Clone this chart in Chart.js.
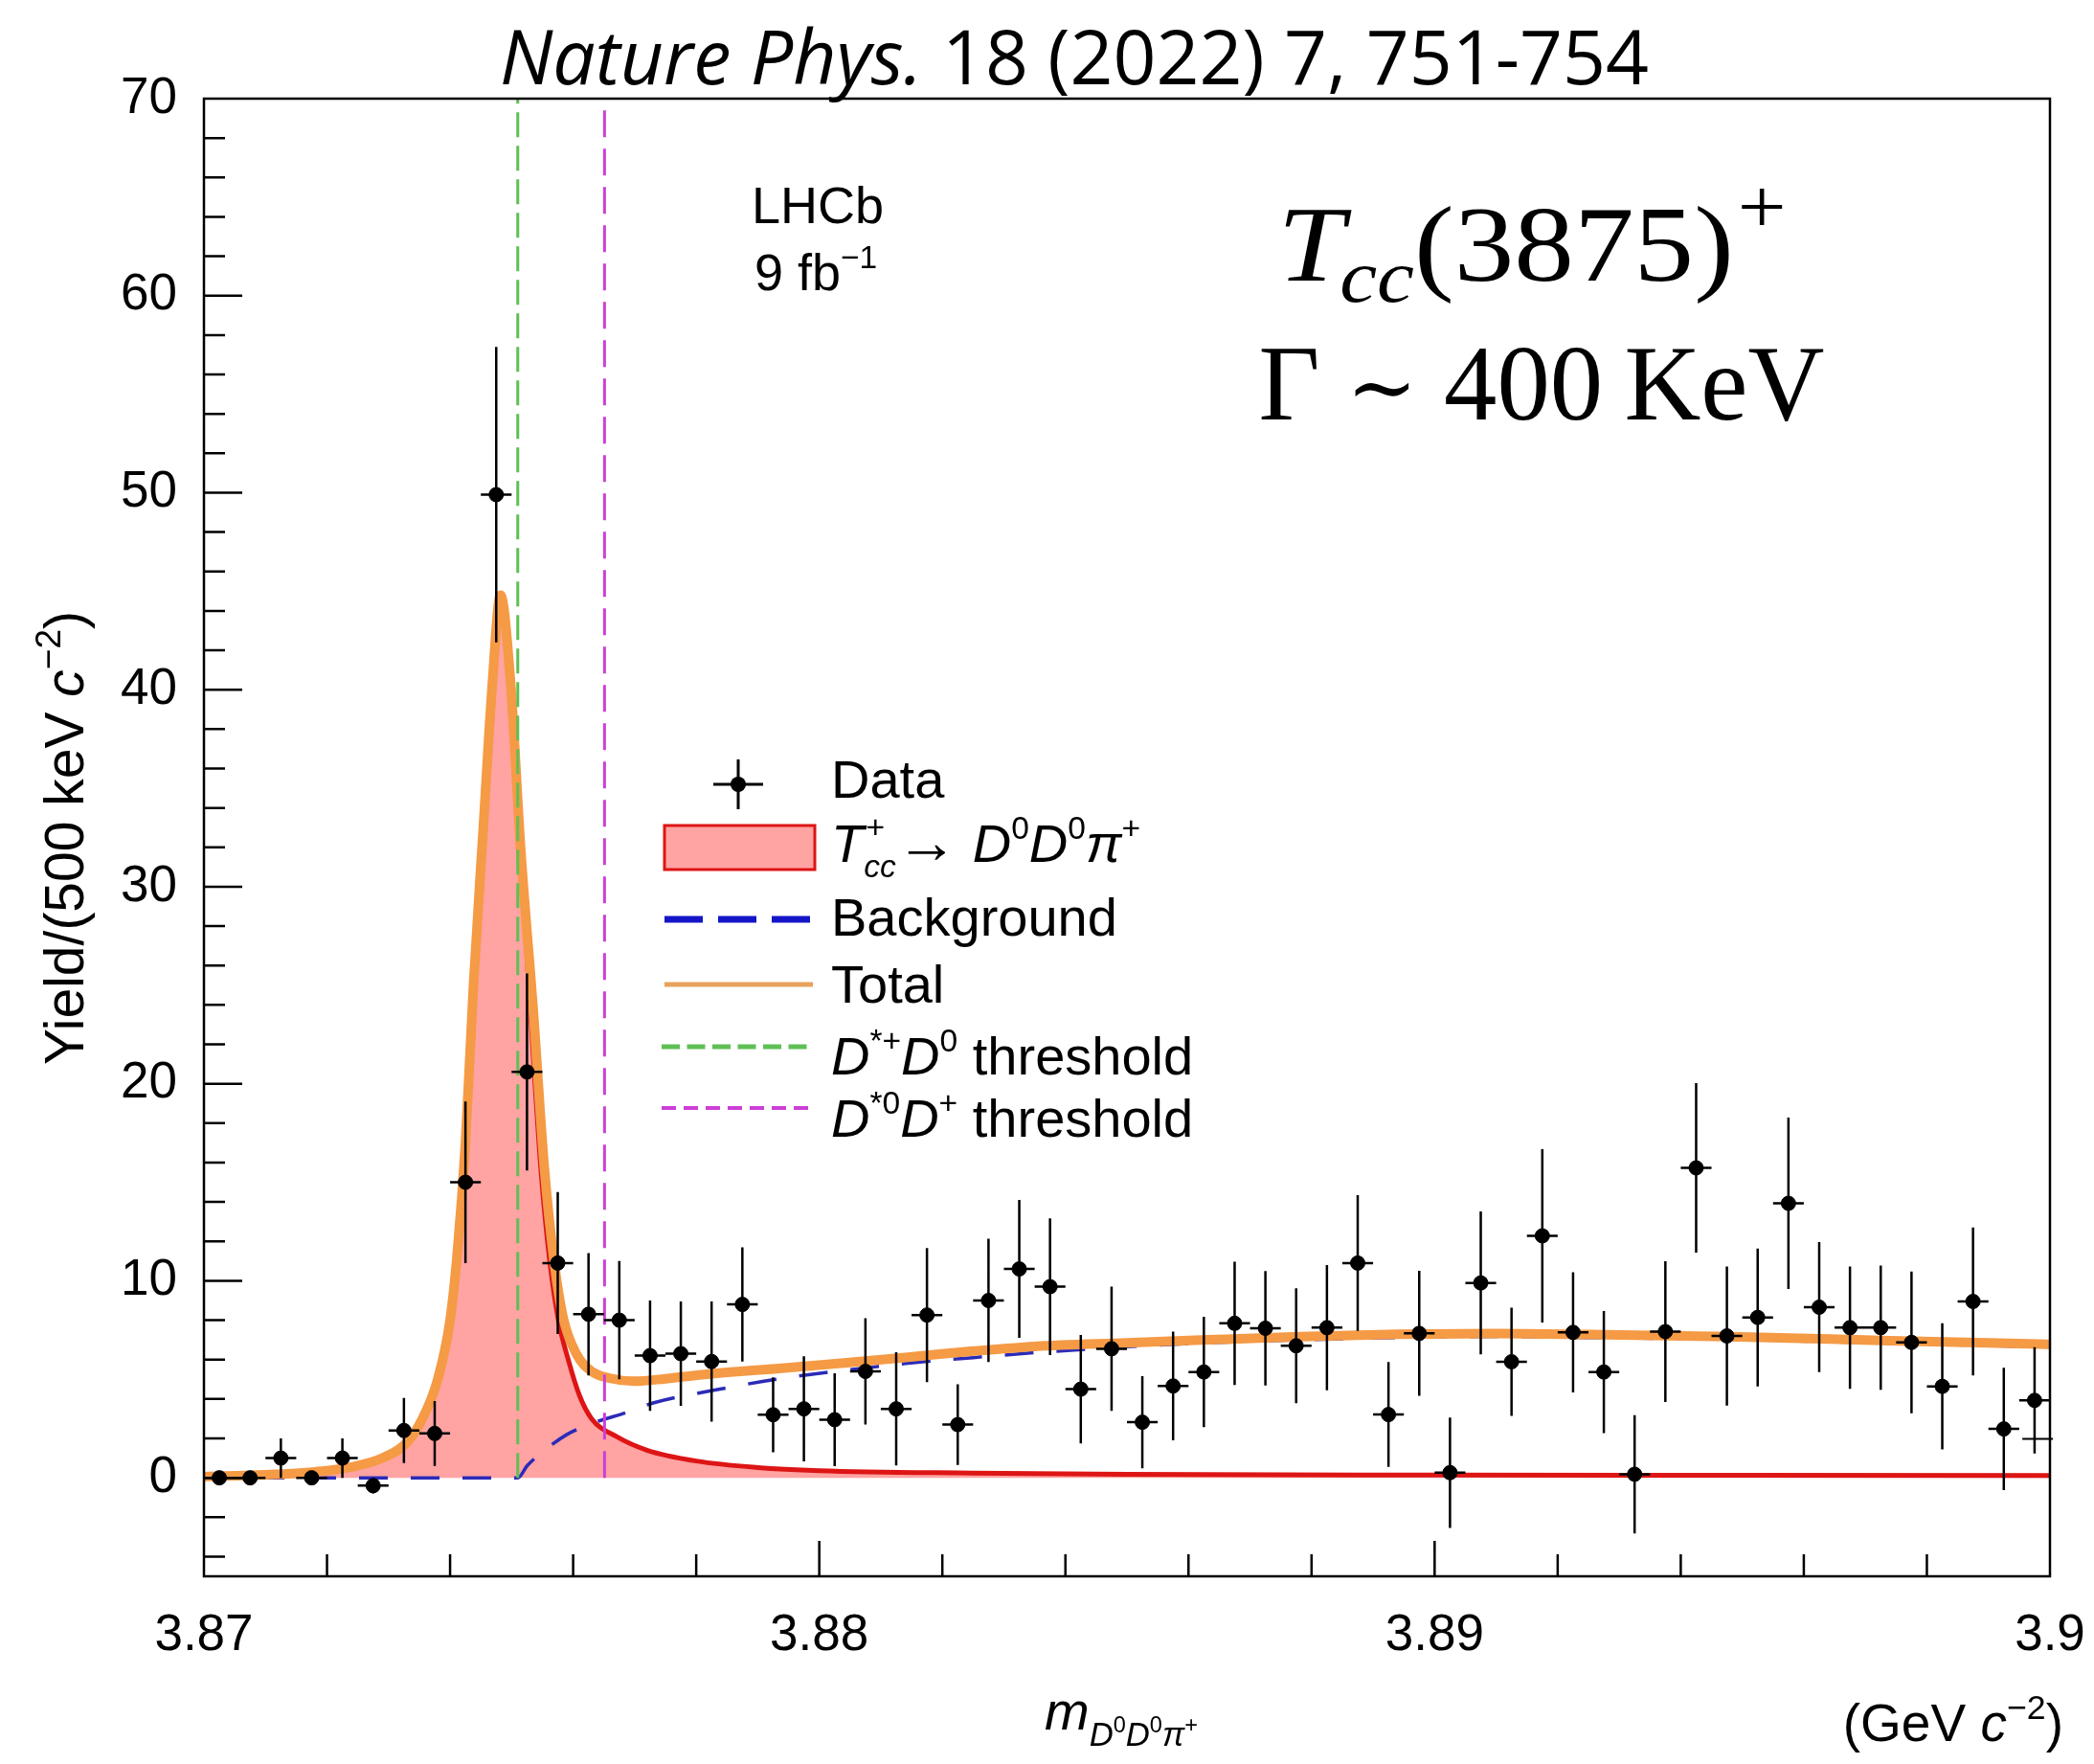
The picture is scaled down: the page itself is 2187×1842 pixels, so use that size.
<!DOCTYPE html>
<html>
<head>
<meta charset="utf-8">
<title>Tcc(3875)+ in D0D0pi+ mass</title>
<script src="https://cdn.jsdelivr.net/npm/chart.js@4.4.1/dist/chart.umd.min.js"></script>
<style>
  html, body { margin: 0; padding: 0; background: #fff; }
  #chart { display: block; }
</style>
</head>
<body>
<canvas id="chart" width="2187" height="1842"></canvas>
<script>
// bin centres in GeV/c^2 (500 keV bins)
var massBins = [3.87025, 3.87075, 3.87125, 3.87175, 3.87225, 3.87275, 3.87325, 3.87375, 3.87425, 3.87475,
                3.87525, 3.87575, 3.87625, 3.87675, 3.87725, 3.87775, 3.87825, 3.87875, 3.87925, 3.87975,
                3.88025, 3.88075, 3.88125, 3.88175, 3.88225, 3.88275, 3.88325, 3.88375, 3.88425, 3.88475,
                3.88525, 3.88575, 3.88625, 3.88675, 3.88725, 3.88775, 3.88825, 3.88875, 3.88925, 3.88975,
                3.89025, 3.89075, 3.89125, 3.89175, 3.89225, 3.89275, 3.89325, 3.89375, 3.89425, 3.89475,
                3.89525, 3.89575, 3.89625, 3.89675, 3.89725, 3.89775, 3.89825, 3.89875, 3.89925, 3.89975];
var yieldVals = [0, 0, 1.0, 0, 1.0, -0.4, 2.4, 2.25, 15.0, 49.9,
                 20.6, 10.9, 8.3, 8.0, 6.2, 6.3, 5.9, 8.8, 3.2, 3.5,
                 2.95, 5.4, 3.5, 8.26, 2.7, 9.0, 10.6, 9.7, 4.5, 6.55,
                 2.82, 4.66, 5.37, 7.84, 7.59, 6.7, 7.62, 10.9, 3.21, 7.33,
                 0.26, 9.89, 5.89, 12.28, 7.38, 5.37, 0.18, 7.42, 15.73, 7.2,
                 8.14, 13.93, 8.66, 7.62, 7.62, 6.87, 4.64, 8.95, 2.48, 3.93];
var yieldErr = [0, 0, 1.0, 0, 1.0, 0.4, 1.65, 1.65, 4.1, 7.5,
                5.0, 3.6, 3.1, 3.0, 2.8, 2.65, 3.05, 2.9, 1.9, 2.67,
                2.36, 2.7, 2.87, 3.4, 2.05, 3.13, 3.5, 3.47, 2.75, 3.15,
                2.34, 2.76, 2.8, 3.13, 2.9, 2.92, 3.18, 3.45, 2.66, 3.17,
                2.8, 3.63, 2.75, 4.4, 3.05, 3.1, 3.0, 3.57, 4.3, 3.53,
                3.5, 4.35, 3.3, 3.1, 3.15, 3.6, 3.2, 3.75, 3.1, 2.7];
var binHalf = 0.00025;

// lone marker without dot at the right edge
var strayX = [3.8998];
var strayY = [1.97];

// Tcc+ signal component
var sigX = [3.8700, 3.8710, 3.8718, 3.8724, 3.8729, 3.8733, 3.87355, 3.8738, 3.8740, 3.87412,
            3.87425, 3.87438, 3.87454, 3.87468, 3.87482, 3.87498, 3.87515, 3.87532, 3.87548, 3.87562,
            3.87576, 3.87592, 3.8761, 3.8763, 3.8767, 3.8772, 3.8780, 3.8790, 3.8800, 3.8825,
            3.8850, 3.8900, 3.8950, 3.9000];
var sigY = [0.06, 0.15, 0.3, 0.55, 1.0, 1.8, 3.0, 5.0, 8.0, 11.5,
            17.0, 25.0, 33.0, 40.0, 44.8, 40.5, 31.5, 23.0, 15.5, 11.0,
            8.0, 6.0, 4.2, 3.0, 2.1, 1.4, 0.85, 0.52, 0.36, 0.24,
            0.18, 0.14, 0.13, 0.12];

// background component
var bkgX = [3.8700, 3.8751, 3.87525, 3.8755, 3.8759, 3.8763, 3.8769, 3.8773, 3.8783, 3.8793,
            3.8804, 3.8814, 3.8825, 3.8835, 3.8850, 3.8863, 3.8878, 3.8894, 3.8910, 3.8925,
            3.8948, 3.8974, 3.9000];
var bkgY = [0, 0, 0.6, 1.3, 2.2, 2.75, 3.35, 3.8, 4.45, 5.0,
            5.45, 5.8, 6.1, 6.35, 6.65, 6.85, 7.0, 7.12, 7.17, 7.12,
            7.02, 6.83, 6.64];

// total fit
var totX = [3.8700, 3.8710, 3.8718, 3.8724, 3.8729, 3.8733, 3.87355, 3.8738, 3.8740, 3.87412,
            3.87425, 3.87438, 3.87454, 3.87468, 3.87482, 3.87498, 3.87515, 3.87535, 3.87553, 3.87569,
            3.87584, 3.87605, 3.8763, 3.8766, 3.8770, 3.8775, 3.8783, 3.8793, 3.8804, 3.8814,
            3.8825, 3.8835, 3.8850, 3.8863, 3.8878, 3.8894, 3.8910, 3.8925, 3.8948, 3.8974,
            3.9000];
var totY = [0.06, 0.15, 0.3, 0.55, 1.0, 1.8, 3.0, 5.0, 8.0, 11.5,
            17.0, 25.0, 33.0, 40.0, 44.8, 40.5, 31.8, 23.8, 15.8, 11.0,
            8.1, 6.3, 5.4, 5.05, 4.9, 5.03, 5.29, 5.54, 5.83, 6.11,
            6.43, 6.67, 6.85, 7.0, 7.16, 7.28, 7.32, 7.27, 7.16, 6.96,
            6.77];

// D*+ D0 and D*0 D+ thresholds
var thrX = [3.87510, 3.87651];

var xTickVals = [3.87, 3.88, 3.89, 3.90];
var xTickLabels = ['3.87', '3.88', '3.89', '3.9'];
var yTickVals = [0, 10, 20, 30, 40, 50, 60, 70];
var yTickLabels = ['0', '10', '20', '30', '40', '50', '60', '70'];

var xMin = 3.87, xMax = 3.90, yMin = -5, yMax = 70;
var SANS = '"Liberation Sans", Arial, sans-serif';
var SERIF = '"Liberation Serif", "DejaVu Serif", serif';

function pts(xa, ya) {
  return xa.map(function (x, i) { return { x: x, y: ya[i] }; });
}

// draws a list of text pieces (italic, sub/superscript) on one baseline
function rich(c, segs, base, fam, x, y, align, targetW) {
  var w = 0, widths = [];
  segs.forEach(function (s) {
    c.font = (s.i ? 'italic ' : '') + (base * (s.s || 1)) + 'px ' + fam;
    var sw = c.measureText(s.t).width;
    widths.push(sw);
    if (!s.stay) w += sw + (s.dx || 0) * base;
  });
  var sc = targetW ? targetW / w : 1;
  var ww = w * sc;
  var x0 = align === 'center' ? x - ww / 2 : (align === 'right' ? x - ww : x);
  c.save();
  c.translate(x0, y);
  c.scale(sc, 1);
  c.textAlign = 'left';
  c.textBaseline = 'alphabetic';
  var cx = 0;
  segs.forEach(function (s, k) {
    c.font = (s.i ? 'italic ' : '') + (base * (s.s || 1)) + 'px ' + fam;
    c.fillText(s.t, cx + (s.dx || 0) * base, (s.dy || 0) * base);
    if (!s.stay) cx += widths[k] + (s.dx || 0) * base;
  });
  c.restore();
  return ww;
}

function hline(c, x0, x1, y) { c.beginPath(); c.moveTo(x0, y); c.lineTo(x1, y); c.stroke(); }

var decor = {
  id: 'decor',
  beforeDatasetDraw: function (chart, args) {
    if (args.index !== 0) return;
    var c = chart.ctx, xs = chart.scales.x, ys = chart.scales.y;
    c.save();
    c.strokeStyle = '#000';
    c.lineWidth = 2.5;
    c.beginPath();
    massBins.forEach(function (m, i) {
      var px = xs.getPixelForValue(m), py = ys.getPixelForValue(yieldVals[i]);
      c.moveTo(xs.getPixelForValue(m - binHalf), py);
      c.lineTo(xs.getPixelForValue(m + binHalf), py);
      if (yieldErr[i] > 0) {
        c.moveTo(px, ys.getPixelForValue(yieldVals[i] + yieldErr[i]));
        c.lineTo(px, ys.getPixelForValue(yieldVals[i] - yieldErr[i]));
      }
    });
    c.stroke();
    c.restore();
  },
  afterDatasetsDraw: function (chart) {
    var c = chart.ctx, a = chart.chartArea, xs = chart.scales.x, ys = chart.scales.y;
    c.save();
    c.strokeStyle = '#000';
    c.lineWidth = 2.5;
    c.strokeRect(a.left, a.top, a.right - a.left, a.bottom - a.top);
    c.beginPath();
    for (var k = 1; k < 15; k++) {
      var px = xs.getPixelForValue(xMin + k * 0.002);
      var len = (k % 5 === 0) ? 37 : 23;
      c.moveTo(px, a.bottom); c.lineTo(px, a.bottom - len);
    }
    for (var v = -4; v < 70; v += 2) {
      var py = ys.getPixelForValue(v);
      var l2 = (v % 10 === 0) ? 40 : 22;
      c.moveTo(a.left, py); c.lineTo(a.left + l2, py);
    }
    c.stroke();
    c.restore();
  },
  afterDraw: function (chart) {
    var c = chart.ctx;
    c.save();
    c.fillStyle = '#000';

    // title
    rich(c, [{ t: 'Nature Phys.', i: true }, { t: ' 18 (2022) 7, 751-754' }],
         78, '"Open Sans", sans-serif', 1122, 88, 'center', 1200);

    // LHCb label
    rich(c, [{ t: 'LHCb' }], 54, SANS, 785, 233, 'left');
    rich(c, [{ t: '9 fb' }, { t: '\u22121', s: 0.62, dy: -0.42 }], 54, SANS, 788, 303, 'left');

    // big annotation
    rich(c, [{ t: 'T', i: true }, { t: 'cc', i: true, s: 0.7, dy: 0.2, dx: -0.04 }, { t: '(3875)' },
             { t: '+', s: 0.72, dy: -0.45, dx: 0.03 }], 112, SERIF, 1600, 293, 'center', 531);
    rich(c, [{ t: '\u0393 ' }, { t: '\u223C', s: 0.8, dy: -0.03 }, { t: ' 400\u2009KeV' }],
         112, SERIF, 1610, 438, 'center', 591);

    // legend symbols
    c.strokeStyle = '#000'; c.lineWidth = 3;
    hline(c, 745, 797, 819);
    c.beginPath(); c.moveTo(771, 793); c.lineTo(771, 845); c.stroke();
    c.beginPath(); c.arc(771, 819, 8, 0, Math.PI * 2); c.fill();

    c.fillStyle = '#ffa3a3'; c.fillRect(694, 862, 157, 46);
    c.strokeStyle = '#dd1515'; c.lineWidth = 3; c.strokeRect(694, 862, 157, 46);

    c.strokeStyle = '#1515c8'; c.lineWidth = 7; c.setLineDash([40, 16]);
    hline(c, 694, 849, 960);
    c.setLineDash([]);
    c.strokeStyle = '#e8a25c'; c.lineWidth = 5;
    hline(c, 694, 849, 1028);
    c.strokeStyle = '#5fbf55'; c.lineWidth = 5; c.setLineDash([19, 7.5]);
    hline(c, 691, 845, 1093);
    c.strokeStyle = '#cc3fd6'; c.lineWidth = 4; c.setLineDash([15, 8]);
    hline(c, 691, 845, 1157);
    c.setLineDash([]);

    // legend text
    c.fillStyle = '#000';
    var LX = 868, LB = 56;
    rich(c, [{ t: 'Data' }], LB, SANS, LX, 833, 'left');
    rich(c, [{ t: 'T', i: true }, { t: '+', s: 0.6, dy: -0.45, dx: 0.04, stay: true },
             { t: 'cc', i: true, s: 0.6, dy: 0.28 }, { t: '\u2192', s: 1.15, dy: 0.02 }, { t: ' ' },
             { t: 'D', i: true }, { t: '0', s: 0.6, dy: -0.42 },
             { t: 'D', i: true }, { t: '0', s: 0.6, dy: -0.42 },
             { t: '\u03C0', i: true }, { t: '+', s: 0.6, dy: -0.42 }], LB, SANS, LX, 900, 'left');
    rich(c, [{ t: 'Background' }], LB, SANS, LX, 977, 'left');
    rich(c, [{ t: 'Total' }], LB, SANS, LX, 1047, 'left');
    rich(c, [{ t: 'D', i: true }, { t: '*+', s: 0.6, dy: -0.42 }, { t: 'D', i: true },
             { t: '0', s: 0.6, dy: -0.42 }, { t: ' threshold' }], LB, SANS, LX, 1122, 'left');
    rich(c, [{ t: 'D', i: true }, { t: '*0', s: 0.6, dy: -0.42 }, { t: 'D', i: true },
             { t: '+', s: 0.6, dy: -0.42 }, { t: ' threshold' }], LB, SANS, LX, 1187, 'left');

    // x axis title and unit
    rich(c, [{ t: 'm', i: true },
             { t: 'D', i: true, s: 0.62, dy: 0.3 }, { t: '0', s: 0.42, dy: 0.06 },
             { t: 'D', i: true, s: 0.62, dy: 0.3 }, { t: '0', s: 0.42, dy: 0.06 },
             { t: '\u03C0', i: true, s: 0.62, dy: 0.3 }, { t: '+', s: 0.42, dy: 0.06 }],
         56, SANS, 1091, 1806, 'left');
    rich(c, [{ t: '(GeV ' }, { t: 'c', i: true }, { t: '\u22122', s: 0.65, dy: -0.42 }, { t: ')' }],
         55, SANS, 2155, 1818, 'right');

    // y axis title
    c.translate(87, 875);
    c.rotate(-Math.PI / 2);
    rich(c, [{ t: 'Yield/(500 keV ' }, { t: 'c', i: true }, { t: '\u22122', s: 0.65, dy: -0.42 }, { t: ')' }],
         57, SANS, 0, 0, 'center');
    c.restore();
  }
};

Chart.defaults.font.family = SANS;
Chart.defaults.color = '#000';

var ctx = document.getElementById('chart').getContext('2d');
var chart = new Chart(ctx, {
  type: 'scatter',
  data: {
    datasets: [
      {
        label: 'Data',
        data: pts(massBins, yieldVals),
        showLine: false,
        pointRadius: 7.5,
        pointBackgroundColor: '#000',
        pointBorderColor: '#000',
        pointBorderWidth: 1
      },
      {
        label: 'marker',
        data: pts(strayX, strayY),
        showLine: false,
        pointStyle: 'line',
        pointRadius: 16,
        pointBorderColor: '#000',
        pointBorderWidth: 2,
        clip: false
      },
      {
        type: 'line',
        label: 'D*+ D0 threshold',
        data: [{ x: thrX[0], y: 0 }, { x: thrX[0], y: yMax }],
        borderColor: '#5fbf55',
        borderWidth: 3,
        borderDash: [26, 9],
        pointRadius: 0,
        fill: false
      },
      {
        type: 'line',
        label: 'D*0 D+ threshold',
        data: [{ x: thrX[1], y: 0 }, { x: thrX[1], y: yMax }],
        borderColor: '#cc3fd6',
        borderWidth: 3,
        borderDash: [28, 12],
        pointRadius: 0,
        fill: false
      },
      {
        type: 'line',
        label: 'Total',
        data: pts(totX, totY),
        borderColor: '#f59a45',
        borderWidth: 10,
        cubicInterpolationMode: 'monotone',
        pointRadius: 0,
        fill: false
      },
      {
        type: 'line',
        label: 'Background',
        data: pts(bkgX, bkgY),
        borderColor: '#2b2bb8',
        borderWidth: 3.5,
        borderDash: [30, 24],
        cubicInterpolationMode: 'monotone',
        pointRadius: 0,
        fill: false
      },
      {
        type: 'line',
        label: 'Tcc+ -> D0 D0 pi+',
        data: pts(sigX, sigY),
        borderColor: '#dd1515',
        borderWidth: 5,
        backgroundColor: '#ffa3a3',
        cubicInterpolationMode: 'monotone',
        pointRadius: 0,
        fill: 'origin'
      }
    ]
  },
  options: {
    responsive: false,
    animation: false,
    devicePixelRatio: 1,
    events: [],
    layout: { padding: { top: 103, right: 46, left: 0, bottom: 0 } },
    plugins: {
      legend: { display: false },
      title: { display: false },
      tooltip: { enabled: false }
    },
    scales: {
      x: {
        type: 'linear',
        min: xMin,
        max: xMax,
        grid: { display: false, drawTicks: false },
        border: { display: false },
        afterBuildTicks: function (s) { s.ticks = xTickVals.map(function (v) { return { value: v }; }); },
        afterFit: function (s) { s.height = 196; s.paddingLeft = 0; s.paddingRight = 0; },
        ticks: {
          font: { size: 53 },
          color: '#000',
          padding: 31,
          maxRotation: 0,
          autoSkip: false,
          callback: function (v, i) { return xTickLabels[i]; }
        }
      },
      y: {
        type: 'linear',
        min: yMin,
        max: yMax,
        grid: { display: false, drawTicks: false },
        border: { display: false },
        afterBuildTicks: function (s) { s.ticks = yTickVals.map(function (v) { return { value: v }; }); },
        afterFit: function (s) { s.width = 213; s.paddingTop = 0; s.paddingBottom = 0; },
        ticks: {
          font: { size: 53 },
          color: '#000',
          padding: 28,
          autoSkip: false,
          callback: function (v, i) { return yTickLabels[i]; }
        }
      }
    }
  },
  plugins: [decor]
});
</script>
</body>
</html>
